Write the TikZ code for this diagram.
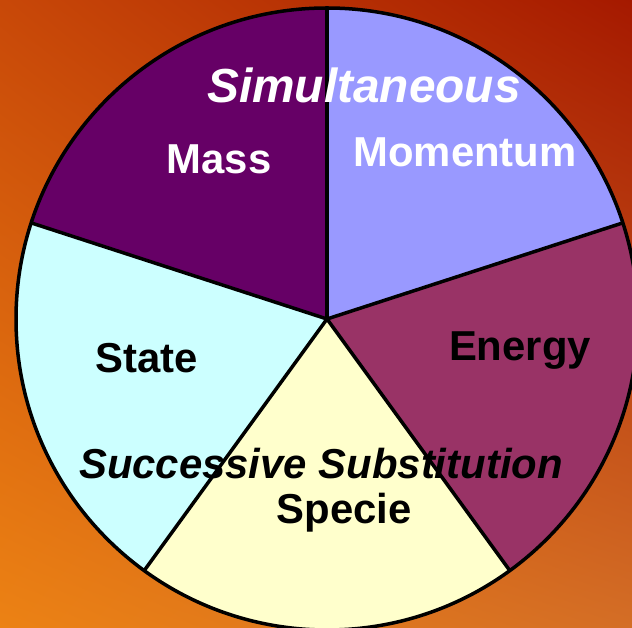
\documentclass[tikz,border=0pt]{standalone}
\usepackage{fontspec}
\setmainfont{Liberation Sans}
\usetikzlibrary{shadings}
\definecolor{massc}{HTML}{660066}
\definecolor{momc}{HTML}{9999FF}
\definecolor{enc}{HTML}{993366}
\definecolor{spc}{HTML}{FFFFCC}
\definecolor{stc}{HTML}{CCFFFF}
\definecolor{bgul}{RGB}{200,72,8}
\definecolor{bgur}{RGB}{165,25,0}
\definecolor{bgll}{RGB}{236,130,20}
\definecolor{bglr}{RGB}{212,110,38}
\begin{document}
\begin{tikzpicture}[x=1bp,y=1bp,
  lbl/.style={anchor=base,inner sep=0pt,font=\fontsize{42}{48}\selectfont\bfseries},
  ital/.style={anchor=base,inner sep=0pt,font=\fontsize{42}{48}\selectfont\bfseries\itshape},
  edge/.style={line width=3.5bp,line join=round}]
\useasboundingbox (0,0) rectangle (632,628);
\shade[upper left=bgul,upper right=bgur,lower left=bgll,lower right=bglr] (0,0) rectangle (632,628);
\coordinate (c) at (327,309);
\fill[massc] (c) -- ++(90:311) arc (90:162:311) -- cycle;
\fill[stc] (c) -- ++(162:311) arc (162:234:311) -- cycle;
\fill[spc] (c) -- ++(234:311) arc (234:306:311) -- cycle;
\fill[enc] (c) -- ++(306:311) arc (306:378:311) -- cycle;
\fill[momc] (c) -- ++(18:311) arc (18:90:311) -- cycle;
\draw[edge] (c) circle (311);
\foreach \a in {18,90,162,234,306} \draw[edge] (c) -- ++(\a:311);
\node[lbl,white] (mass) at (219,454) {Mass};
\node[lbl,white] (mom) at (465,461) {Momentum};
\node[lbl,black] (energy) at (520,267) {Energy};
\node[lbl,black] (state) at (147,255) {State};
\node[lbl,black] (specie) at (344,104) {Specie};
\node[anchor=base,inner sep=0pt,font=\fontsize{48}{54}\selectfont\bfseries\itshape,white] (simul) at (364,525) {Simultaneous};
\node[ital,black] (succ) at (321,149) {Successive Substitution};
\end{tikzpicture}
\end{document}
